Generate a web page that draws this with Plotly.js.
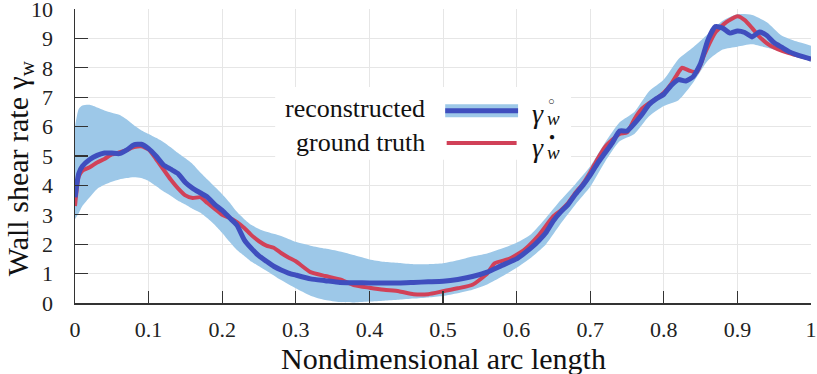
<!DOCTYPE html>
<html>
<head>
<meta charset="utf-8">
<script src="https://cdn.plot.ly/plotly-3.0.1.min.js"></script>
<style>
  html, body { margin: 0; padding: 0; background: #fff; }
  #grafica { width: 817px; height: 374px; }
</style>
</head>
<body>
<div id="grafica"></div>
<script>
// ---------- datos ----------
const xTicks = [0, 0.1, 0.2, 0.3, 0.4, 0.5, 0.6, 0.7, 0.8, 0.9, 1];
const xTickLabels = ["0", "0.1", "0.2", "0.3", "0.4", "0.5", "0.6", "0.7", "0.8", "0.9", "1"];
const yTicks = [0, 1, 2, 3, 4, 5, 6, 7, 8, 9, 10];

// banda de incertidumbre (reconstructed)
const bandX = [0, 0.005, 0.01, 0.02, 0.03, 0.04, 0.05, 0.06, 0.07, 0.08, 0.09, 0.1, 0.11, 0.12, 0.13, 0.14, 0.15, 0.16, 0.17, 0.18, 0.19, 0.2, 0.21, 0.22, 0.23, 0.24, 0.25, 0.26, 0.28, 0.3, 0.32, 0.34, 0.36, 0.38, 0.4, 0.42, 0.44, 0.46, 0.48, 0.5, 0.52, 0.54, 0.56, 0.58, 0.6, 0.62, 0.64, 0.66, 0.68, 0.7, 0.72, 0.74, 0.76, 0.78, 0.8, 0.82, 0.84, 0.86, 0.88, 0.9, 0.92, 0.94, 0.96, 0.98, 1];
const bandUpper = [6.0, 6.6, 6.72, 6.74, 6.65, 6.55, 6.47, 6.4, 6.25, 6.05, 5.88, 5.75, 5.62, 5.48, 5.3, 5.1, 4.92, 4.72, 4.45, 4.2, 3.95, 3.7, 3.42, 3.1, 2.85, 2.65, 2.52, 2.42, 2.28, 2.08, 1.95, 1.85, 1.75, 1.62, 1.48, 1.4, 1.36, 1.32, 1.32, 1.35, 1.45, 1.58, 1.68, 1.85, 2.05, 2.35, 2.9, 3.5, 4.05, 4.65, 5.45, 6.15, 6.5, 7.2, 7.6, 8.3, 8.7, 9.15, 9.6, 9.82, 9.8, 9.55, 9.1, 8.9, 8.75];
const bandLower = [2.85, 3.05, 3.3, 3.6, 3.88, 4.02, 4.12, 4.2, 4.25, 4.28, 4.25, 4.15, 3.98, 3.8, 3.65, 3.48, 3.35, 3.2, 3.08, 2.88, 2.65, 2.38, 2.08, 1.8, 1.6, 1.4, 1.25, 1.1, 0.78, 0.5, 0.25, 0.1, 0.03, 0.02, 0.05, 0.08, 0.11, 0.15, 0.19, 0.24, 0.33, 0.45, 0.63, 0.9, 1.2, 1.55, 2.0, 2.7, 3.35, 3.95, 4.8, 5.5, 5.75, 6.35, 6.7, 6.9, 7.5, 8.25, 8.62, 8.72, 8.8, 8.68, 8.55, 8.42, 8.2];

// reconstructed
const reconX = [0, 0.005, 0.01, 0.02, 0.03, 0.04, 0.05, 0.06, 0.07, 0.08, 0.09, 0.1, 0.11, 0.12, 0.13, 0.14, 0.15, 0.16, 0.17, 0.18, 0.19, 0.2, 0.21, 0.22, 0.23, 0.24, 0.25, 0.26, 0.27, 0.28, 0.29, 0.3, 0.32, 0.34, 0.36, 0.38, 0.4, 0.42, 0.44, 0.46, 0.48, 0.5, 0.52, 0.54, 0.56, 0.58, 0.6, 0.61, 0.62, 0.63, 0.64, 0.65, 0.66, 0.67, 0.68, 0.69, 0.7, 0.71, 0.72, 0.73, 0.74, 0.75, 0.76, 0.77, 0.78, 0.79, 0.8, 0.81, 0.82, 0.83, 0.84, 0.85, 0.86, 0.87, 0.88, 0.89, 0.9, 0.91, 0.92, 0.93, 0.94, 0.95, 0.96, 0.97, 0.98, 0.99, 1];
const reconY = [3.6, 4.4, 4.65, 4.88, 5.02, 5.1, 5.1, 5.08, 5.2, 5.38, 5.4, 5.25, 5.0, 4.7, 4.55, 4.4, 4.1, 3.9, 3.75, 3.6, 3.35, 3.15, 2.9, 2.65, 2.15, 1.85, 1.6, 1.42, 1.25, 1.12, 1.02, 0.95, 0.82, 0.76, 0.7, 0.69, 0.68, 0.68, 0.68, 0.7, 0.72, 0.74, 0.8, 0.9, 1.05, 1.28, 1.5, 1.68, 1.88, 2.12, 2.4, 2.8, 3.1, 3.35, 3.7, 4.0, 4.35, 4.75, 5.1, 5.45, 5.85, 5.85, 6.1, 6.4, 6.75, 6.95, 7.1, 7.4, 7.6, 7.55, 7.7, 8.15, 8.95, 9.4, 9.35, 9.18, 9.25, 9.2, 9.05, 9.22, 9.1, 8.85, 8.7, 8.55, 8.45, 8.37, 8.3];

// ground truth
const truthX = [0, 0.005, 0.01, 0.02, 0.03, 0.04, 0.05, 0.06, 0.07, 0.08, 0.09, 0.1, 0.11, 0.12, 0.13, 0.14, 0.15, 0.16, 0.17, 0.18, 0.19, 0.2, 0.21, 0.22, 0.23, 0.24, 0.25, 0.26, 0.27, 0.28, 0.29, 0.3, 0.32, 0.34, 0.36, 0.38, 0.4, 0.42, 0.44, 0.46, 0.48, 0.5, 0.52, 0.54, 0.56, 0.57, 0.59, 0.61, 0.63, 0.65, 0.66, 0.67, 0.68, 0.69, 0.7, 0.71, 0.72, 0.73, 0.74, 0.75, 0.76, 0.77, 0.78, 0.79, 0.8, 0.81, 0.82, 0.825, 0.835, 0.845, 0.855, 0.87, 0.885, 0.9, 0.91, 0.92, 0.93, 0.945, 0.97, 1];
const truthY = [3.3, 4.3, 4.5, 4.62, 4.78, 4.9, 5.05, 5.12, 5.2, 5.3, 5.33, 5.22, 4.9, 4.55, 4.2, 3.9, 3.66, 3.57, 3.6, 3.4, 3.2, 3.0, 2.9, 2.75, 2.55, 2.3, 2.1, 1.95, 1.88, 1.7, 1.55, 1.42, 1.05, 0.92, 0.8, 0.6, 0.52, 0.45, 0.4, 0.3, 0.3, 0.4, 0.5, 0.62, 1.0, 1.35, 1.5, 1.8, 2.3, 2.95, 3.15, 3.4, 3.75, 4.05, 4.45, 4.9, 5.3, 5.55, 5.75, 5.8, 6.25, 6.6, 6.8, 6.95, 7.15, 7.45, 7.85, 8.0, 7.9, 7.85, 8.45, 9.2, 9.55, 9.75, 9.62, 9.35, 9.05, 8.75, 8.5, 8.3];

// ---------- estilo ----------
const FUENTE = "Liberation Serif";
const AZUL = "#3f4ebe";
const ROJO = "#d14158";
const BANDA = "rgb(157,200,232)";

const trazas = [
  {
    x: bandX, y: bandLower, type: "scatter", mode: "lines",
    line: { width: 0, shape: "spline", smoothing: 0.6 },
    hoverinfo: "skip", showlegend: false
  },
  {
    x: bandX, y: bandUpper, type: "scatter", mode: "lines",
    fill: "tonexty", fillcolor: BANDA,
    line: { width: 0, shape: "spline", smoothing: 0.6 },
    hoverinfo: "skip", showlegend: false
  },
  {
    x: truthX, y: truthY, type: "scatter", mode: "lines",
    line: { color: ROJO, width: 4, shape: "spline", smoothing: 0.5 },
    showlegend: false
  },
  {
    x: reconX, y: reconY, type: "scatter", mode: "lines",
    line: { color: AZUL, width: 5, shape: "spline", smoothing: 0.5 },
    showlegend: false
  }
];

function eje(extra) {
  return Object.assign({
    ticks: "inside",
    tickcolor: "#333",
    tickwidth: 1.2,
    showline: true,
    linecolor: "#333",
    linewidth: 1.5,
    showgrid: true,
    gridcolor: "#e6e6e6",
    gridwidth: 1,
    zeroline: false,
    ticklabeloverflow: "allow",
    tickfont: { family: FUENTE, size: 22, color: "#222" },
    fixedrange: true
  }, extra);
}

// leyenda dibujada a mano (texto a la izquierda, muestra en medio, símbolo a la derecha)
const formas = [
  { type: "rect", xref: "x", yref: "y", x0: 0.272, x1: 0.674, y0: 4.87, y1: 7.35,
    fillcolor: "white", line: { width: 0 }, layer: "above" },
  { type: "line", xref: "x", yref: "y", x0: 0.503, x1: 0.602, y0: 6.54, y1: 6.54,
    line: { color: BANDA, width: 13 }, layer: "above" },
  { type: "line", xref: "x", yref: "y", x0: 0.503, x1: 0.602, y0: 6.54, y1: 6.54,
    line: { color: AZUL, width: 5 }, layer: "above" },
  { type: "line", xref: "x", yref: "y", x0: 0.505, x1: 0.6, y0: 5.44, y1: 5.44,
    line: { color: ROJO, width: 4 }, layer: "above" }
];

const texto = (t, x, y, size, extra) => Object.assign({
  text: t, x: x, y: y, xref: "x", yref: "y", showarrow: false,
  font: { family: FUENTE, size: size, color: "#111" }
}, extra);

const anotaciones = [
  texto("reconstructed", 0.478, 6.6, 26, { xanchor: "right", yanchor: "middle" }),
  texto("ground truth", 0.478, 5.47, 26, { xanchor: "right", yanchor: "middle" }),
  texto("<i>γ</i>", 0.618, 6.45, 28, { xanchor: "left", yanchor: "middle" }),
  texto("○", 0.648, 6.86, 11, { xanchor: "center", yanchor: "middle" }),
  texto("<i>w</i>", 0.65, 6.28, 19, { xanchor: "center", yanchor: "middle" }),
  texto("<i>γ</i>", 0.618, 5.3, 28, { xanchor: "left", yanchor: "middle" }),
  texto("●", 0.648, 5.66, 10, { xanchor: "center", yanchor: "middle" }),
  texto("<i>w</i>", 0.65, 5.13, 19, { xanchor: "center", yanchor: "middle" }),
  {
    text: "Nondimensional arc length", xref: "paper", yref: "paper",
    x: 0.5, y: -0.19, xanchor: "center", yanchor: "middle", showarrow: false,
    font: { family: FUENTE, size: 30, color: "#111" }
  },
  {
    text: "Wall shear rate γ<sub>w</sub>", xref: "paper", yref: "paper",
    x: -0.0755, y: 0.46, xanchor: "center", yanchor: "middle", showarrow: false,
    textangle: -90,
    font: { family: FUENTE, size: 30, color: "#111" }
  }
];

Plotly.newPlot("grafica", trazas, {
  width: 817,
  height: 374,
  margin: { l: 75, r: 6, t: 9, b: 71 },
  paper_bgcolor: "white",
  plot_bgcolor: "white",
  showlegend: false,
  xaxis: eje({ range: [0, 1], tickvals: xTicks, ticktext: xTickLabels, ticklen: 12, ticklabelstandoff: 6 }),
  yaxis: eje({ range: [0, 10], tickvals: yTicks, ticklen: 13, ticklabelstandoff: 16 }),
  shapes: formas,
  annotations: anotaciones
}, { staticPlot: true });
</script>
</body>
</html>
